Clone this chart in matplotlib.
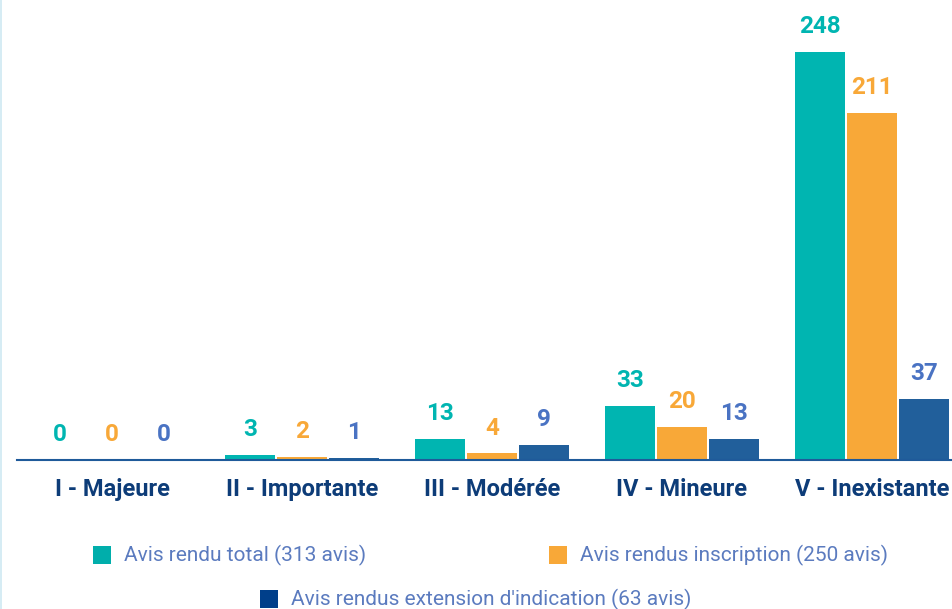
import matplotlib.pyplot as plt
from matplotlib.patches import Rectangle

# données
categories = ["I - Majeure", "II - Importante", "III - Modérée", "IV - Mineure", "V - Inexistante"]
avis_total = [0, 3, 13, 33, 248]
avis_inscription = [0, 2, 4, 20, 211]
avis_extension = [0, 1, 9, 13, 37]
series_labels = ["Avis rendu total (313 avis)",
                 "Avis rendus inscription (250 avis)",
                 "Avis rendus extension d'indication (63 avis)"]

bar_colors = ["#00b5b1", "#f8a838", "#215f9b"]
text_colors = ["#00b5b1", "#f8a838", "#4a73c3"]
legend_colors = ["#00aeab", "#f8a838", "#003f8a"]
cat_color = "#0d3c78"
legend_text_color = "#5b7bbf"

W, H = 953, 609
fig = plt.figure(figsize=(W / 100, H / 100), dpi=100)

# bande bleu clair à gauche
fig.patches.append(Rectangle((0, 0), 2.5 / W, 1, transform=fig.transFigure,
                             facecolor="#d6ecf4", edgecolor="none"))

# axes : ligne de base à y=460px, échelle 1.645 px par avis
y_top = 275
ax_left = 17 / W
ax_bottom = (H - 460) / H
ax_height = y_top * 1.645 / H
ax = fig.add_axes([ax_left, ax_bottom, (W - 17) / W, ax_height])

px = 190.0  # pixels par groupe
width = 50 / px
step = 52 / px
x = list(range(len(categories)))

for i, (vals, c, tc) in enumerate(zip([avis_total, avis_inscription, avis_extension],
                                      bar_colors, text_colors)):
    xs = [xi + (i - 1) * step for xi in x]
    ax.bar(xs, vals, width=width, color=c, zorder=2)
    for xi, v in zip(xs, vals):
        ax.annotate(str(v), (xi, v), xytext=(0, 10), textcoords="offset points",
                    ha="center", va="bottom", fontsize=17.5, fontweight="bold",
                    color=tc, family="Roboto", clip_on=False)

ax.set_xlim(-0.5, (W - 112) / px)
ax.set_ylim(0, y_top)
ax.set_yticks([])
ax.set_xticks(x)
ax.set_xticklabels(categories, fontsize=17, fontweight="bold", color=cat_color, family="Roboto")
ax.tick_params(axis="x", length=0, pad=13)
for s in ["top", "right", "left"]:
    ax.spines[s].set_visible(False)
ax.spines["bottom"].set_color("#1f5a9a")
ax.spines["bottom"].set_linewidth(1.5)

# légende manuelle
legend_pos = [(93, 546), (549, 546), (260, 590)]
for (lx, ly), col, lab in zip(legend_pos, legend_colors, series_labels):
    fig.patches.append(Rectangle((lx / W, 1 - (ly + 18) / H), 18 / W, 18 / H,
                                 transform=fig.transFigure, facecolor=col, edgecolor="none"))
    fig.text((lx + 31) / W, 1 - (ly + 9) / H, lab, fontsize=15, color=legend_text_color,
             family="Roboto", fontweight="normal", va="center", ha="left")

fig.savefig("out.png", dpi=100)
